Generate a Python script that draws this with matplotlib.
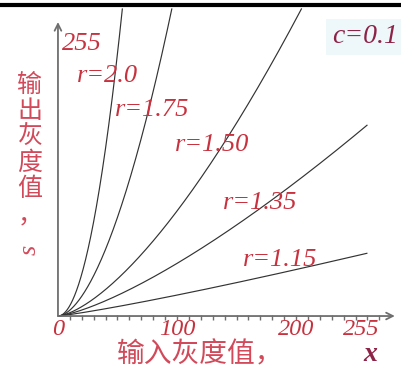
import matplotlib
matplotlib.use("Agg")
import matplotlib.pyplot as plt
import numpy as np

# power-law transform s = c * x**r
c = 0.1
gammas = [2.0, 1.75, 1.50, 1.35, 1.15]
gamma_labels = ["r=2.0", "r=1.75", "r=1.50", "r=1.35", "r=1.15"]
x_ticks = [0, 100, 200, 255]
x_end = 260      # last input value drawn
s_top = 293      # curves stop under the top rule

ylabel_chars = ["输", "出", "灰", "度", "值", "，"]
xlabel_text = "输入灰度值，"

RED = "#c8323f"
PINK = "#d24a5a"
DARK = "#8e2348"
AXIS = "#6e6e6e"
SERIF = "Liberation Serif"
CJK = "Noto Sans CJK SC"

fig = plt.figure(figsize=(4.01, 3.70), dpi=100)
ax = fig.add_axes([0, 0, 1, 1])
ax.set_xlim(-48.7, 288.2)
ax.set_ylim(-51.4, 301)
ax.axis("off")

# curves
for r in gammas:
    xmax = min(x_end, (s_top / c) ** (1 / r))
    xs = np.linspace(0, xmax, 300)
    ax.plot(xs, c * xs ** r, color="#333333", lw=0.85, solid_capstyle="butt")

# axes with arrows
arrow = dict(arrowstyle="->", color=AXIS, lw=1.3, shrinkA=0, shrinkB=0,
             mutation_scale=12)
ax.annotate("", xy=(283, 0), xytext=(0, 0), arrowprops=arrow)
ax.annotate("", xy=(0, 280), xytext=(0, 0), arrowprops=arrow)
ax.vlines(np.arange(10, 271, 10), -3.5, 1.0, color=AXIS, lw=1)

# top rule
ax.plot([-48.7, 288.2], [295.8, 295.8], color="black", lw=3, clip_on=False)

# tick labels
for v in x_ticks:
    ax.text(v, -12.5, str(v), ha="center", va="center", fontsize=17.5,
            style="italic", family=SERIF, color=RED)
ax.text(3.5, 259, "255", ha="left", va="center", fontsize=19,
        style="italic", family=SERIF, color=RED)

# curve labels
label_pos = [(16, 229), (48, 196), (98, 163), (139, 108), (155, 53)]
for text, (lx, ly) in zip(gamma_labels, label_pos):
    ax.text(lx, ly, text, ha="left", va="center", fontsize=19,
            style="italic", family=SERIF, color=RED)

ax.text(230, 266, f"c={c}", ha="left", va="center", fontsize=20,
        style="italic", family=SERIF, color=DARK,
        bbox=dict(facecolor="#eef8fa", edgecolor="none", pad=4))

# vertical y label
ax.text(-23.5, 158, "\n".join(ylabel_chars), ha="center", va="center",
        fontsize=18, family=[CJK, "DejaVu Sans"], color=PINK,
        linespacing=1.0)
ax.text(-23.5, 63, "s", ha="center", va="center", fontsize=19,
        style="italic", family=SERIF, color=PINK, rotation=90)

# x label
ax.text(49.5, -37, xlabel_text, ha="left", va="center", fontsize=20,
        family=[CJK, "DejaVu Sans"], color=PINK)
ax.text(262, -37, "x", ha="center", va="center", fontsize=20,
        style="italic", weight="bold", family=SERIF, color=DARK)

fig.savefig("out.png", dpi=100)
